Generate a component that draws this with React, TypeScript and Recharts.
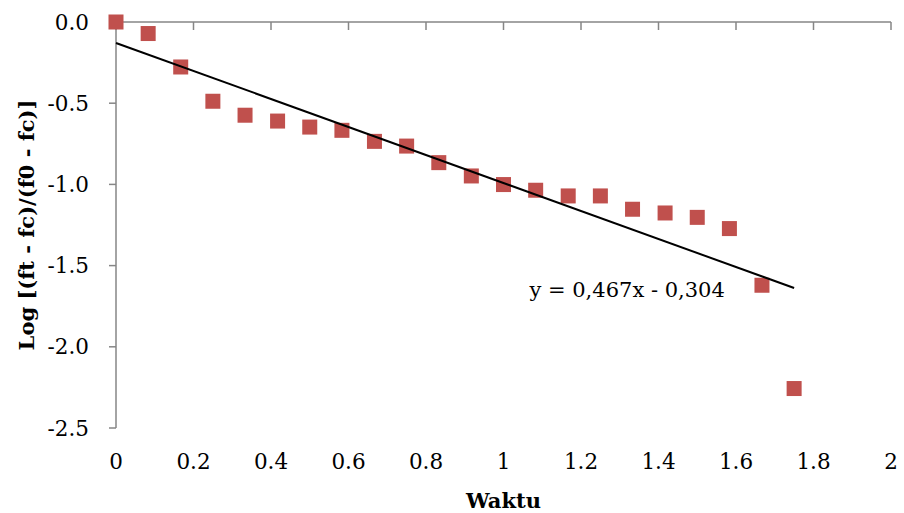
import React from 'react';
import { ScatterChart, Scatter, XAxis, YAxis, ReferenceDot } from 'recharts';

const timeValues = [0, 0.083, 0.167, 0.25, 0.333, 0.417, 0.5, 0.583, 0.667, 0.75, 0.833, 0.917, 1, 1.083, 1.167, 1.25, 1.333, 1.417, 1.5, 1.583, 1.667, 1.75];
const logValues = [0, -0.071, -0.277, -0.488, -0.574, -0.61, -0.647, -0.667, -0.735, -0.764, -0.866, -0.948, -1.001, -1.036, -1.071, -1.071, -1.153, -1.176, -1.203, -1.272, -1.621, -2.257];
const trendX = [0, 1.75];
const trendY = [-0.129, -1.638];
const xTicks = [0, 0.2, 0.4, 0.6, 0.8, 1, 1.2, 1.4, 1.6, 1.8, 2];
const yTicks = [-2.5, -2, -1.5, -1, -0.5, 0];
const equationText = 'y = 0,467x - 0,304';
const equationPos = { x: 1.067, y: -1.693 };
const xTitle = 'Waktu';
const yTitle = 'Log [(ft - fc)/(f0 - fc)]';

const pointData = timeValues.map((t, i) => ({ x: t, y: logValues[i] }));
const trendData = trendX.map((t, i) => ({ x: t, y: trendY[i] }));

const FONT = '"DejaVu Serif", serif';
const AXIS = '#868686';
const MARKER = '#C0504D';

const SquareShape = (p: any) => (
  <rect x={p.cx - 7.5} y={p.cy - 7.5} width={15} height={15} fill={MARKER} />
);
const NoShape = () => <g />;
const EmptyTick = () => <g />;

export default function App() {
  return (
    <div style={{ position: 'absolute', left: 0, top: 0, width: 904, height: 513, background: '#fff' }}>
      <ScatterChart width={904} height={513} margin={{ top: 22, right: 13, bottom: 0, left: 0 }}>
        <XAxis
          dataKey="x"
          type="number"
          domain={[0, 2]}
          ticks={xTicks}
          height={85}
          axisLine={false}
          tickLine={false}
          tickSize={0}
          tickMargin={26}
          tick={{ fill: '#000', fontSize: 21.5, fontFamily: FONT }}
          label={{
            content: (props: any) => {
              const vb = props.viewBox;
              return (
                <text x={vb.x + vb.width / 2} y={508} textAnchor="middle" fontFamily={FONT} fontSize={21} fontWeight="bold" fill="#000">
                  {xTitle}
                </text>
              );
            },
          }}
        />
        <XAxis
          xAxisId="top"
          dataKey="x"
          orientation="top"
          mirror
          type="number"
          domain={[0, 2]}
          ticks={xTicks}
          height={30}
          tick={EmptyTick}
          tickSize={8}
          tickLine={{ stroke: AXIS, strokeWidth: 1.5 }}
          axisLine={{ stroke: AXIS, strokeWidth: 1.5 }}
        />
        <YAxis
          dataKey="y"
          type="number"
          domain={[-2.5, 0]}
          ticks={yTicks}
          width={116}
          tickSize={7}
          tickMargin={20}
          tickFormatter={(v: number) => v.toFixed(1)}
          tick={{ fill: '#000', fontSize: 21.5, fontFamily: FONT }}
          tickLine={{ stroke: AXIS, strokeWidth: 1.5 }}
          axisLine={{ stroke: AXIS, strokeWidth: 1.5 }}
          label={{
            content: (props: any) => {
              const vb = props.viewBox;
              const cy = vb.y + vb.height / 2;
              return (
                <text x={26} y={cy} transform={`rotate(-90, 26, ${cy})`} textAnchor="middle" dominantBaseline="central" fontFamily={FONT} fontSize={21} fontWeight="bold" fill="#000">
                  {yTitle}
                </text>
              );
            },
          }}
        />
        <Scatter data={pointData} shape={SquareShape} isAnimationActive={false} />
        <Scatter xAxisId="top" data={trendData} shape={NoShape} line={{ stroke: '#000', strokeWidth: 2 }} isAnimationActive={false} />
        <ReferenceDot
          x={equationPos.x}
          y={equationPos.y}
          r={0}
          shape={(p: any) => (
            <text x={p.cx} y={p.cy} fontFamily={FONT} fontSize={21} fill="#000">
              {equationText}
            </text>
          )}
        />
      </ScatterChart>
    </div>
  );
}
